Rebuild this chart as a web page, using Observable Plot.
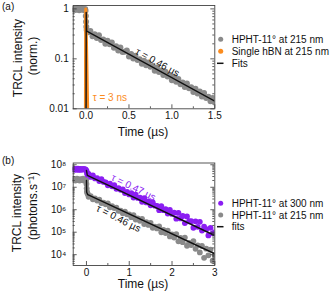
<!DOCTYPE html>
<html><head><meta charset="utf-8">
<script src="https://cdn.jsdelivr.net/npm/d3@7"></script>
<script src="https://cdn.jsdelivr.net/npm/@observablehq/plot@0.6"></script>
<style>
body{margin:0;background:#fff;font-family:"Liberation Sans",Arial,sans-serif}
#wrap{width:331px;line-height:0}
svg{display:block}
</style>
</head><body><div id="wrap"></div>
<script>
// ---------- Panel (a) ----------
const xTicksA = [0, 0.5, 1, 1.5];
const xTickLabelsA = ["0.0", "0.5", "1.0", "1.5"];
const xMinorA = [0.25, 0.75, 1.25];
const yTicksA = [0.01, 0.1, 1];
const yTickLabelsA = ["0.01", "0.1", "1"];
const yMinorA = [0.02,0.03,0.04,0.05,0.06,0.07,0.08,0.09,0.2,0.3,0.4,0.5,0.6,0.7,0.8,0.9];

// HPHT-11° at 215 nm (normalized)
const grayA_t = [-0.15,-0.14,-0.13,-0.12,-0.11,-0.10,-0.09,-0.08,-0.07,-0.06,-0.05,-0.04,-0.03,-0.02,-0.01,
  -0.006,-0.003,0,0.003,0.007,0.014,0.025,0.035,
  0.05,0.075,0.1,0.125,0.15,0.175,0.2,0.225,0.25,0.275,0.3,0.325,0.35,0.375,0.4,0.425,0.45,0.475,0.5,0.525,
  0.55,0.575,0.6,0.625,0.65,0.675,0.7,0.725,0.75,0.775,0.8,0.825,0.85,0.875,0.9,0.925,0.95,0.975,1.0,1.025,
  1.05,1.075,1.1,1.125,1.15,1.175,1.2,1.225,1.25,1.275,1.3,1.325,1.35,1.375,1.4,1.425,1.45,1.475,1.5];
const grayA_v = [0.98,1.02,0.95,1.0,0.97,1.04,0.99,0.94,1.01,0.98,1.03,0.96,1.0,0.95,0.99,
  0.92,0.72,0.55,0.44,0.38,0.35,0.34,0.345,
  0.363,0.284,0.311,0.261,0.297,0.239,0.245,0.201,0.231,0.196,0.213,0.167,0.179,0.147,0.168,0.137,0.138,0.147,0.112,0.125,
  0.102,0.116,0.0948,0.0983,0.0797,0.0916,0.0747,0.0844,0.0691,0.0716,0.0581,0.0673,0.0544,0.0587,0.0473,0.0551,0.0443,0.0455,0.0372,0.0432,
  0.0349,0.0394,0.0310,0.0335,0.0272,0.0320,0.0257,0.0271,0.0216,0.0253,0.0203,0.0222,0.0177,0.0207,0.0165,0.0174,0.0141,0.0164,0.0134];

// Single hBN at 215 nm
const hbn_t = [-0.008,-0.007,-0.006,-0.005,-0.004,-0.003,-0.001,0.001,0.003,0.005,0.007,0.009,0.011,0.013,0.015,0.017,0.019];
const hbn_v = [0.004,0.03,0.2,0.7,1.0,0.95,0.7,0.47,0.3,0.2,0.13,0.085,0.055,0.035,0.022,0.014,0.009];

// Fit (a)
const fitA_t = [0, 0.0015, 0.008, 1.5];
const fitA_v = [0.008, 0.85, 0.36, 0.0142];

// ---------- Panel (b) ----------
const xTicksB = [0, 1, 2, 3];
const xTickLabelsB = ["0", "1", "2", "3"];
const xMinorB = [0.5, 1.5, 2.5];
const yTicksB = [1e4, 1e5, 1e6, 1e7, 1e8];
const yTickLabelsB = ["10\u2074", "10\u2075", "10\u2076", "10\u2077", "10\u2078"];
const yMinorB = [4e3,5e3,6e3,7e3,8e3,9e3,2e4,3e4,4e4,5e4,6e4,7e4,8e4,9e4,2e5,3e5,4e5,5e5,6e5,7e5,8e5,9e5,
  2e6,3e6,4e6,5e6,6e6,7e6,8e6,9e6,2e7,3e7,4e7,5e7,6e7,7e7,8e7,9e7];

const tB = [-0.3,-0.28,-0.26,-0.24,-0.22,-0.2,-0.18,-0.16,-0.14,-0.12,-0.1,-0.08,-0.06,-0.04,-0.02,
  0.05,0.1,0.15,0.2,0.25,0.3,0.35,0.4,0.45,0.5,0.55,0.6,0.65,0.7,0.75,0.8,0.85,0.9,0.95,1.0,
  1.05,1.1,1.15,1.2,1.25,1.3,1.35,1.4,1.45,1.5,1.55,1.6,1.65,1.7,1.75,1.8,1.85,1.9,1.95,2.0,
  2.05,2.1,2.15,2.2,2.25,2.3,2.35,2.4,2.45,2.5,2.55,2.6,2.65,2.7,2.75,2.8,2.85,2.9,2.95,3.0];

// HPHT-11° at 300 nm (photons/s)
const purple_v = [6.1e7,6.6e7,6.0e7,6.4e7,6.2e7,6.7e7,5.9e7,6.3e7,6.5e7,6.0e7,6.4e7,6.2e7,6.6e7,6.1e7,6.3e7,
  3.94e7,2.89e7,3.37e7,2.47e7,2.56e7,1.88e7,2.29e7,1.72e7,1.66e7,1.22e7,1.45e7,1.11e7,1.24e7,8.48e6,9.20e6,7.75e6,8.03e6,5.50e6,6.25e6,4.80e6,
  5.46e6,3.49e6,4.66e6,3.34e6,3.46e6,2.26e6,3.24e6,2.12e6,2.35e6,1.57e6,2.10e6,1.51e6,1.49e6,9.53e5,1.46e6,9.56e5,1.06e6,6.78e5,9.93e5,6.49e5,
  7.38e5,4.01e5,7.23e5,4.12e5,5.25e5,2.55e5,5.03e5,3.07e5,3.11e5,1.58e5,3.04e5,1.73e5,2.91e5,1.18e5,1.76e5,1.35e5,7.19e4,1.56e5,8.87e4,1.01e5];
const purpleDrop_t = [0, 0.01, 0.02, 0.03];
const purpleDrop_v = [5.5e7, 4.5e7, 3.8e7, 3.6e7];

// HPHT-11° at 215 nm (photons/s)
const grayB_v = [2.1e7,2.3e7,2.0e7,2.2e7,2.4e7,2.1e7,2.2e7,2.0e7,2.3e7,2.1e7,2.2e7,2.4e7,2.0e7,2.2e7,2.1e7,
  3.75e6,4.07e6,2.92e6,3.17e6,2.55e6,2.84e6,1.99e6,2.06e6,1.74e6,1.93e6,1.29e6,1.43e6,1.18e6,1.25e6,8.99e5,9.11e5,7.00e5,8.15e5,6.26e5,6.20e5,
  4.66e5,5.67e5,3.63e5,4.12e5,3.24e5,3.95e5,2.30e5,2.80e5,2.11e5,2.57e5,1.57e5,1.78e5,1.47e5,1.79e5,9.95e4,1.27e5,9.10e4,1.16e5,6.47e4,8.06e4,
  5.78e4,8.27e4,3.92e4,5.61e4,3.59e4,5.76e4,2.49e4,3.33e4,2.68e4,4.01e4,1.82e4,2.60e4,1.26e4,2.43e4,7.27e3,1.85e4,9.40e3,1.69e4,5.43e3,9.78e3];
const grayDrop_t = [-0.01, 0, 0.005, 0.01, 0.02, 0.03];
const grayDrop_v = [2.0e7, 1.4e7, 9.0e6, 6.5e6, 5.5e6, 5.0e6];

// Fits (b)
const fitP_t = [0, 0.02, 3];
const fitP_v = [5.6e7, 3.4e7, 7.1e4];
const fitG_t = [0, 0.005, 0.03, 3];
const fitG_v = [2.0e7, 6.0e6, 4.7e6, 1.1e4];

// ---------- build ----------
const rows = (t, v) => t.map((d, i) => ({t: d, v: v[i]}));
const GRAY = "#8a8a8a", ORANGE = "#fb8c1e", PURPLE = "#8b1ef2", BLACK = "#111";
const W = 331, ML = 72.7, MR = 116.7;
const FONT = "Liberation Sans, Arial, sans-serif";

function tickMarks(fw, fh, xMaj, xMin, yMaj, yMin) {
  const s = {stroke: "#333", strokeWidth: 0.8};
  return [
    Plot.ruleX(xMaj, {x: d => d, insetTop: fh - 4, ...s}),
    Plot.ruleX(xMin, {x: d => d, insetTop: fh - 2, ...s}),
    Plot.ruleY(yMaj, {y: d => d, insetRight: fw - 4, ...s}),
    Plot.ruleY(yMaj, {y: d => d, insetLeft: fw - 4, ...s}),
    Plot.ruleY(yMin, {y: d => d, insetRight: fw - 2, ...s}),
    Plot.ruleY(yMin, {y: d => d, insetLeft: fw - 2, ...s})
  ];
}

const HA = 145, MTA = 5, MBA = 36.7;
const plotA = Plot.plot({
  width: W, height: HA, marginTop: MTA, marginBottom: MBA, marginLeft: ML, marginRight: MR,
  x: {domain: [-0.15, 1.5]},
  y: {type: "log", domain: [0.01, 1.17]},
  style: {fontFamily: FONT, fontSize: "10px", color: "#111", background: "#fff"},
  marks: [
    Plot.dot(rows(grayA_t, grayA_v), {x: "t", y: "v", r: 3, fill: GRAY, clip: true}),
    Plot.line(rows(hbn_t, hbn_v), {x: "t", y: "v", stroke: ORANGE, strokeWidth: 3, clip: true}),
    Plot.line(rows(fitA_t, fitA_v), {x: "t", y: "v", stroke: BLACK, strokeWidth: 1.4, clip: true}),
    Plot.text([{t: 0.832, v: 0.0845, s: "\u03c4 = 0.46 \u00b5s"}], {x: "t", y: "v", text: "s", rotate: 29, fill: BLACK, fontSize: 10}),
    Plot.text([{t: 0.078, v: 0.0166, s: "\u03c4 = 3 ns"}], {x: "t", y: "v", text: "s", textAnchor: "start", fill: ORANGE, fontSize: 10}),
    ...tickMarks(W - ML - MR, HA - MTA - MBA, xTicksA, xMinorA, yTicksA, yMinorA),
    Plot.frame({stroke: "#444", strokeWidth: 0.9}),
    Plot.axisX(xTicksA, {tickSize: 0, tickPadding: 3, label: null, tickFormat: d => xTickLabelsA[xTicksA.indexOf(d)], fontSize: 10}),
    Plot.axisY(yTicksA, {tickSize: 0, tickPadding: 4.5, label: null, tickFormat: d => yTickLabelsA[yTicksA.indexOf(d)], fontSize: 10})
  ]
});

const HB = 148, MTB = 17.5, MBB = 28;
const plotB = Plot.plot({
  width: W, height: HB, marginTop: MTB, marginBottom: MBB, marginLeft: ML, marginRight: MR,
  x: {domain: [-0.31, 3]},
  y: {type: "log", domain: [3.3e3, 1.2e8]},
  style: {fontFamily: FONT, fontSize: "10px", color: "#111", background: "#fff"},
  marks: [
    Plot.dot(rows(tB, grayB_v).concat(rows(grayDrop_t, grayDrop_v)), {x: "t", y: "v", r: 2.9, fill: GRAY, clip: true}),
    Plot.dot(rows(tB, purple_v).concat(rows(purpleDrop_t, purpleDrop_v)), {x: "t", y: "v", r: 2.9, fill: PURPLE, clip: true}),
    Plot.line(rows(fitP_t, fitP_v), {x: "t", y: "v", stroke: BLACK, strokeWidth: 1.4, clip: true}),
    Plot.line(rows(fitG_t, fitG_v), {x: "t", y: "v", stroke: BLACK, strokeWidth: 1.4, clip: true}),
    Plot.text([{t: 1.10, v: 9.75e6, s: "\u03c4 = 0.47 \u00b5s"}], {x: "t", y: "v", text: "s", rotate: 26, fill: PURPLE, fontSize: 10}),
    Plot.text([{t: 0.749, v: 4.07e5, s: "\u03c4 = 0.46 \u00b5s"}], {x: "t", y: "v", text: "s", rotate: 27, fill: BLACK, fontSize: 10}),
    ...tickMarks(W - ML - MR, HB - MTB - MBB, xTicksB, xMinorB, yTicksB, yMinorB),
    Plot.frame({stroke: "#444", strokeWidth: 0.9}),
    Plot.axisX(xTicksB, {tickSize: 0, tickPadding: 3.5, label: null, tickFormat: d => xTickLabelsB[xTicksB.indexOf(d)], fontSize: 10}),
    Plot.axisY(yTicksB, {tickSize: 0, tickPadding: 7, label: null, tickFormat: d => yTickLabelsB[yTicksB.indexOf(d)], fontSize: 10})
  ]
});

function decorate(svg, panel, ytitle, legend, xTitleY) {
  const g = d3.select(svg).append("g").attr("font-family", FONT).attr("fill", "#111");
  g.append("text").attr("x", 2).attr("y", panel.y).attr("font-size", 10)
    .attr("text-anchor", "start").attr("dominant-baseline", "central").text(panel.label);
  ytitle.forEach(t => {
    g.append("text").attr("transform", `translate(${t.x},${t.y}) rotate(-90)`)
      .attr("text-anchor", "middle").attr("dominant-baseline", "central").attr("font-size", 12).text(t.s);
  });
  g.append("text").attr("x", 143).attr("y", xTitleY).attr("text-anchor", "middle")
    .attr("dominant-baseline", "central").attr("font-size", 12).text("Time (\u00b5s)");
  legend.forEach(l => {
    if (l.kind === "dot") g.append("circle").attr("cx", 220.7).attr("cy", l.y).attr("r", 2.5).attr("fill", l.color);
    else g.append("line").attr("x1", 217).attr("x2", 223.5).attr("y1", l.y).attr("y2", l.y).attr("stroke", BLACK).attr("stroke-width", 1.5);
    g.append("text").attr("x", 231.7).attr("y", l.y).attr("text-anchor", "start")
      .attr("dominant-baseline", "central").attr("font-size", 10).text(l.s);
  });
}

decorate(plotA, {label: "(a)", y: 6},
  [{x: 18, y: 58, s: "TRCL intensity"}, {x: 33, y: 56, s: "(norm.)"}],
  [{kind: "dot", color: GRAY, y: 39.3, s: "HPHT-11\u00b0 at 215 nm"},
   {kind: "dot", color: ORANGE, y: 51.3, s: "Single hBN at 215 nm"},
   {kind: "line", y: 63.3, s: "Fits"}], 131.5);

decorate(plotB, {label: "(b)", y: 15},
  [{x: 16.5, y: 68, s: "TRCL intensity"}, {x: 33, y: 61, s: "(photons.s\u207b\u00b9)"}],
  [{kind: "dot", color: PURPLE, y: 58.3, s: "HPHT-11\u00b0 at 300 nm"},
   {kind: "dot", color: GRAY, y: 70, s: "HPHT-11\u00b0 at 215 nm"},
   {kind: "line", y: 81.7, s: "fits"}], 139);

document.getElementById("wrap").append(plotA, plotB);
</script></body></html>
